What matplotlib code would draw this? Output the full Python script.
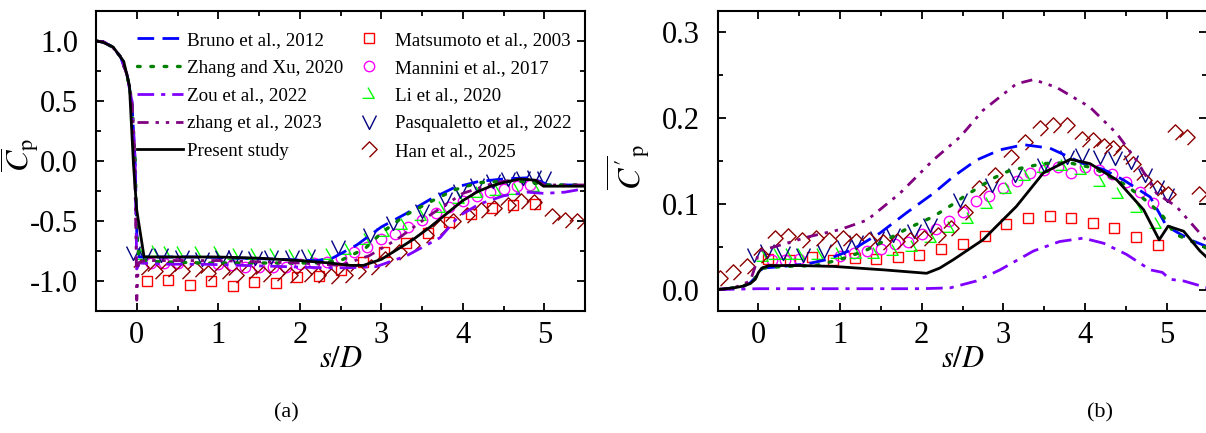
import numpy as np
import matplotlib
matplotlib.use('Agg')
import matplotlib.pyplot as plt
from matplotlib.path import Path
from matplotlib.ticker import MultipleLocator

plt.rcParams['font.family'] = ['Liberation Serif', 'DejaVu Serif']
plt.rcParams['mathtext.fontset'] = 'stix'

# ---------------- (a) mean Cp ----------------
bruno_a_x = [-0.5, -0.4, -0.3, -0.2, -0.12, -0.06, -0.02, 0.0, 0.03, 0.3, 0.8, 1.3, 1.8, 2.2, 2.4,
             2.7, 3.0, 3.3, 3.6, 3.9, 4.2, 4.5, 4.8, 4.95, 5.05, 5.5]
bruno_a_y = [1.0, 0.99, 0.95, 0.87, 0.72, 0.5, 0.0, -0.6, -0.80, -0.80, -0.80, -0.81, -0.82, -0.83, -0.81,
             -0.70, -0.55, -0.44, -0.32, -0.22, -0.17, -0.15, -0.14, -0.17, -0.20, -0.20]

zhxu_a_x = [-0.5, -0.4, -0.3, -0.2, -0.12, -0.06, -0.02, 0.0, 0.03, 0.3, 0.8, 1.3, 1.8, 2.2, 2.5,
            2.8, 3.0, 3.3, 3.6, 3.9, 4.2, 4.5, 4.8, 5.0, 5.5]
zhxu_a_y = [1.0, 0.99, 0.95, 0.87, 0.72, 0.5, 0.0, -0.6, -0.83, -0.84, -0.85, -0.85, -0.85, -0.85, -0.83,
            -0.73, -0.60, -0.45, -0.34, -0.24, -0.18, -0.17, -0.17, -0.20, -0.20]

zou_a_x = [-0.5, -0.4, -0.3, -0.2, -0.12, -0.06, -0.02, 0.0, 0.03, 0.3, 0.8, 1.3, 1.8, 2.3, 2.6, 2.94,
           3.31, 3.72, 3.95, 4.2, 4.5, 4.8, 5.0, 5.25, 5.5]
zou_a_y = [1.0, 0.99, 0.95, 0.87, 0.72, 0.5, 0.0, -0.9, -0.85, -0.86, -0.86, -0.87, -0.88, -0.89, -0.89, -0.88,
           -0.79, -0.64, -0.46, -0.36, -0.29, -0.26, -0.27, -0.26, -0.23]

zh23_a_x = [-0.5, -0.4, -0.3, -0.2, -0.12, -0.06, -0.03, -0.01, 0.0, 0.02, 0.1, 0.5, 1.0, 1.5, 2.0, 2.5,
            2.85, 3.2, 3.6, 4.0, 4.4, 4.7, 4.9, 5.0, 5.5]
zh23_a_y = [1.0, 0.99, 0.95, 0.87, 0.72, 0.5, 0.1, -0.6, -1.16, -0.85, -0.83, -0.83, -0.83, -0.84, -0.85, -0.87,
            -0.79, -0.65, -0.45, -0.27, -0.18, -0.15, -0.16, -0.20, -0.20]

pres_a_x = [-0.5, -0.42, -0.29, -0.16, -0.09, -0.04, 0.0, 0.09, 0.5, 1.0, 1.5, 2.0, 2.37, 2.62, 2.78,
            3.0, 3.19, 3.4, 3.6, 3.8, 4.0, 4.17, 4.34, 4.5, 4.7, 4.89, 4.99, 5.2, 5.5]
pres_a_y = [1.0, 0.99, 0.95, 0.83, 0.63, -0.03, -0.41, -0.80, -0.80, -0.80, -0.81, -0.83, -0.85, -0.87, -0.87,
            -0.82, -0.74, -0.65, -0.55, -0.44, -0.33, -0.26, -0.21, -0.18, -0.15, -0.16, -0.21, -0.21, -0.21]

mats_x = [0.12, 0.38, 0.65, 0.91, 1.18, 1.44, 1.71, 1.97, 2.24, 2.5, 2.77, 3.03, 3.3, 3.57, 3.83, 4.1,
          4.36, 4.62, 4.89]
mats_a_y = [-1.0, -0.99, -1.03, -1.0, -1.04, -1.01, -1.02, -0.97, -0.96, -0.91, -0.84, -0.76, -0.68, -0.60,
            -0.51, -0.44, -0.39, -0.37, -0.36]

mann_x = [0.17, 0.33, 0.5, 1.0, 1.17, 1.33, 1.5, 1.67, 1.83, 2.0, 2.17, 2.33, 2.5, 2.67, 2.83, 3.0, 3.17,
          3.33, 3.5, 3.67, 3.83, 4.0, 4.17, 4.33, 4.5, 4.67, 4.83]
mann_a_y = [-0.85, -0.85, -0.85, -0.86, -0.87, -0.88, -0.88, -0.88, -0.88, -0.86, -0.85, -0.84, -0.81, -0.76,
            -0.72, -0.65, -0.61, -0.55, -0.49, -0.43, -0.38, -0.33, -0.29, -0.26, -0.23, -0.21, -0.20]

li_x = [0.05, 0.2, 0.35, 0.5, 0.73, 0.96, 1.19, 1.42, 1.65, 1.88, 2.11, 2.34, 2.57, 2.8, 3.03, 3.26, 3.49,
        3.72, 3.95, 4.18, 4.41, 4.64, 4.87]
li_a_y = [-0.78, -0.76, -0.77, -0.77, -0.77, -0.77, -0.78, -0.78, -0.78, -0.79, -0.79, -0.78, -0.74, -0.66,
          -0.59, -0.53, -0.46, -0.39, -0.32, -0.27, -0.25, -0.24, -0.22]

pasq_x = [-0.05, 0.1, 0.3, 0.55, 0.8, 1.05, 1.2, 1.45, 1.65, 1.9, 2.1, 2.47, 2.86, 3.14, 3.5, 3.78, 3.96,
          4.18, 4.37, 4.56, 4.74, 4.88, 5.0]
pasq_a_y = [-0.77, -0.78, -0.78, -0.80, -0.82, -0.80, -0.80, -0.81, -0.80, -0.80, -0.79, -0.72, -0.62, -0.52,
            -0.42, -0.32, -0.25, -0.20, -0.17, -0.15, -0.14, -0.13, -0.14]

han_a_x = [0.05, 0.22, 0.38, 0.55, 0.72, 0.88, 1.05, 1.22, 1.38, 1.55, 1.72, 1.88, 2.05, 2.22, 2.38, 2.55,
           2.72, 2.88, 3.05, 3.22, 3.38, 3.55, 3.72, 3.88, 4.05, 4.22, 4.38, 4.55, 4.72, 4.88, 5.1, 5.25, 5.4]
han_a_y = [-0.88, -0.92, -0.90, -0.92, -0.90, -0.93, -0.92, -0.95, -0.92, -0.94, -0.93, -0.95, -0.94, -0.95,
           -0.96, -0.95, -0.92, -0.88, -0.82, -0.76, -0.70, -0.62, -0.55, -0.50, -0.45, -0.41, -0.39, -0.37,
           -0.33, -0.34, -0.46, -0.49, -0.50]

# ---------------- (b) fluctuating Cp' ----------------
bruno_b_x = [-0.5, -0.2, -0.1, -0.03, 0.05, 0.3, 0.6, 0.84, 1.16, 1.49, 1.82, 2.14, 2.39, 2.67, 2.96, 3.25,
             3.57, 3.98, 4.23, 4.47, 4.8, 5.0, 5.29, 5.5]
bruno_b_y = [0.0, 0.003, 0.008, 0.015, 0.025, 0.027, 0.03, 0.035, 0.047, 0.066, 0.090, 0.112, 0.132, 0.151,
             0.163, 0.169, 0.165, 0.147, 0.140, 0.128, 0.108, 0.074, 0.058, 0.050]

zhxu_b_x = [-0.5, -0.2, -0.05, 0.05, 0.3, 0.7, 1.0, 1.3, 1.57, 1.82, 2.14, 2.39, 2.51, 2.88, 3.08, 3.29,
            3.49, 3.8, 4.1, 4.5, 4.8, 4.96, 5.1, 5.5]
zhxu_b_y = [0.0, 0.003, 0.012, 0.025, 0.027, 0.028, 0.035, 0.045, 0.058, 0.071, 0.085, 0.100, 0.108, 0.130,
            0.139, 0.143, 0.147, 0.148, 0.142, 0.122, 0.100, 0.085, 0.065, 0.048]

zou_b_x = [-0.5, 0.0, 1.0, 2.0, 2.35, 2.67, 2.96, 3.37, 3.69, 3.98, 4.23, 4.51, 4.8, 4.95, 5.04, 5.21, 5.5]
zou_b_y = [0.0, 0.001, 0.001, 0.001, 0.002, 0.010, 0.023, 0.045, 0.056, 0.060, 0.054, 0.041, 0.023, 0.020,
           0.012, 0.010, 0.002]

zh23_b_x = [-0.5, -0.3, -0.1, -0.03, 0.0, 0.2, 0.63, 1.0, 1.33, 1.73, 2.14, 2.47, 2.75, 3.16, 3.37, 3.65,
            4.06, 4.39, 4.63, 4.88, 5.12, 5.37, 5.5]
zh23_b_y = [0.0, 0.002, 0.01, 0.03, 0.045, 0.05, 0.062, 0.07, 0.081, 0.112, 0.151, 0.178, 0.209, 0.240, 0.245,
            0.236, 0.213, 0.182, 0.151, 0.112, 0.097, 0.070, 0.056]

pres_b_x = [-0.5, -0.3, -0.19, -0.1, -0.04, 0.0, 0.04, 0.13, 0.5, 0.92, 1.53, 2.06, 2.22, 2.39, 2.75, 3.16,
            3.49, 3.82, 4.06, 4.39, 4.72, 4.91, 5.02, 5.21, 5.41, 5.5]
pres_b_y = [0.0, 0.002, 0.004, 0.007, 0.012, 0.02, 0.025, 0.028, 0.028, 0.027, 0.023, 0.019, 0.025, 0.035,
            0.058, 0.097, 0.136, 0.152, 0.147, 0.128, 0.093, 0.058, 0.074, 0.068, 0.045, 0.037]

mats_b_y = [0.036, 0.035, 0.038, 0.034, 0.037, 0.036, 0.038, 0.040, 0.047, 0.053, 0.063, 0.076, 0.083,
            0.086, 0.083, 0.078, 0.072, 0.061, 0.052]

mann_b_y = [0.035, 0.035, 0.036, 0.039, 0.043, 0.045, 0.047, 0.053, 0.056, 0.065, 0.071, 0.080, 0.091,
            0.103, 0.109, 0.118, 0.127, 0.136, 0.140, 0.143, 0.136, 0.143, 0.140, 0.135, 0.125, 0.114, 0.101]

li_b_y = [0.038, 0.040, 0.040, 0.040, 0.040, 0.041, 0.041, 0.042, 0.045, 0.050, 0.060, 0.072, 0.082, 0.100,
          0.117, 0.132, 0.142, 0.144, 0.140, 0.126, 0.112, 0.095, 0.077]

pasq_b_y = [0.040, 0.045, 0.043, 0.040, 0.045, 0.050, 0.056, 0.060, 0.064, 0.068, 0.075, 0.105, 0.122,
            0.134, 0.145, 0.155, 0.157, 0.155, 0.153, 0.149, 0.134, 0.120, 0.110]

han_b_x = [-0.47, -0.31, -0.14, 0.03, 0.2, 0.36, 0.53, 0.7, 0.86, 1.03, 1.2, 1.36, 1.53, 1.7, 1.86, 2.03,
           2.2, 2.36, 2.53, 2.7, 2.9, 3.1, 3.27, 3.45, 3.61, 3.78, 3.96, 4.1, 4.23, 4.35, 4.47, 4.59, 4.72,
           4.88, 5.02, 5.1, 5.25, 5.4]
han_b_y = [0.013, 0.021, 0.028, 0.040, 0.060, 0.063, 0.058, 0.060, 0.058, 0.060, 0.057, 0.058, 0.056, 0.057,
           0.058, 0.060, 0.064, 0.072, 0.090, 0.118, 0.134, 0.155, 0.172, 0.188, 0.192, 0.192, 0.176, 0.174,
           0.167, 0.165, 0.160, 0.147, 0.128, 0.118, 0.112, 0.184, 0.178, 0.112]

labels_lines = ['Bruno et al., 2012', 'Zhang and Xu, 2020', 'Zou et al., 2022', 'zhang et al., 2023',
                'Present study']
labels_marks = ['Matsumoto et al., 2003', 'Mannini et al., 2017', 'Li et al., 2020',
                'Pasqualetto et al., 2022', 'Han et al., 2025']

# open custom markers (triangle/diamond with a missing side)
li_marker = Path([(-0.2, 0.9), (0.6, -0.5), (-0.9, -0.5)], [Path.MOVETO, Path.LINETO, Path.LINETO])
pasq_marker = Path([(-0.7, 0.7), (0.0, -0.7), (0.7, 0.7)], [Path.MOVETO, Path.LINETO, Path.LINETO])
han_marker = Path([(-0.7, 0.0), (0.0, 0.7), (0.7, 0.0), (0.0, -0.7)],
                  [Path.MOVETO, Path.LINETO, Path.LINETO, Path.LINETO])

line_styles = [
    dict(color='#0000FF', lw=2.0, dashes=(6, 3)),
    dict(color='#008000', lw=2.4, dashes=(0.8, 3.2), dash_capstyle='round'),
    dict(color='#8000FF', lw=2.0, dashes=(6, 2.5, 1.5, 2.5)),
    dict(color='#800080', lw=2.0, dashes=(4, 2.5, 1.2, 2.5, 1.2, 2.5)),
    dict(color='black', lw=2.0),
]
mark_styles = [
    dict(marker='s', ms=7, mfc='none', mec='#FF0000', mew=1.0),
    dict(marker='o', ms=7.5, mfc='none', mec='#FF00FF', mew=1.0),
    dict(marker=li_marker, ms=10, mfc='none', mec='#00FF00', mew=1.0),
    dict(marker=pasq_marker, ms=10, mfc='none', mec='#000080', mew=1.0),
    dict(marker=han_marker, ms=11, mfc='none', mec='#8B0000', mew=1.0),
]

fig = plt.figure(figsize=(12.06, 4.33), dpi=100)
ax1 = fig.add_axes([0.0796, 0.2818, 0.4055, 0.6928])
ax2 = fig.add_axes([0.5951, 0.2818, 0.4060, 0.6928])

series_a_lines = [(bruno_a_x, bruno_a_y), (zhxu_a_x, zhxu_a_y), (zou_a_x, zou_a_y),
                  (zh23_a_x, zh23_a_y), (pres_a_x, pres_a_y)]
series_a_marks = [(mats_x, mats_a_y), (mann_x, mann_a_y), (li_x, li_a_y), (pasq_x, pasq_a_y),
                  (han_a_x, han_a_y)]
series_b_lines = [(bruno_b_x, bruno_b_y), (zhxu_b_x, zhxu_b_y), (zou_b_x, zou_b_y),
                  (zh23_b_x, zh23_b_y), (pres_b_x, pres_b_y)]
series_b_marks = [(mats_x, mats_b_y), (mann_x, mann_b_y), (li_x, li_b_y), (pasq_x, pasq_b_y),
                  (han_b_x, han_b_y)]

handles = []
for ax, lines, marks in [(ax1, series_a_lines, series_a_marks), (ax2, series_b_lines, series_b_marks)]:
    hl, hm = [], []
    for (x, y), st, lab in zip(marks, mark_styles, labels_marks):
        h, = ax.plot(x, y, ls='none', label=lab, **st)
        hm.append(h)
    for (x, y), st, lab in zip(lines, line_styles, labels_lines):
        h, = ax.plot(x, y, label=lab, **st)
        hl.append(h)
    handles.append((hl, hm))

for ax in (ax1, ax2):
    ax.set_xlim(-0.5, 5.5)
    ax.xaxis.set_major_locator(MultipleLocator(1))
    ax.xaxis.set_minor_locator(MultipleLocator(0.5))
    ax.tick_params(which='both', direction='in', top=True, right=True, labelsize=22, width=1.3)
    ax.tick_params(which='major', length=6)
    ax.tick_params(which='minor', length=3.5)
    ax.tick_params(axis='y', which='major', pad=13)
    ax.tick_params(axis='x', which='major', pad=7)
    for sp in ax.spines.values():
        sp.set_linewidth(1.5)
    ax.set_xlabel(r'$s/D$', fontsize=22)
    ax.xaxis.set_label_coords(0.5, -0.112)

ax1.set_ylim(-1.25, 1.25)
ax1.yaxis.set_major_locator(MultipleLocator(0.5))
ax1.yaxis.set_minor_locator(MultipleLocator(0.25))
ax1.set_yticks([-1.0, -0.5, 0.0, 0.5, 1.0])
ax1.set_yticklabels(['-1.0', '-0.5', '0.0', '0.5', '1.0'])
ax1.set_ylabel(r'$\overline{C}_{\mathrm{p}}$', fontsize=23)
ax1.yaxis.set_label_coords(-0.112, 0.52)

ax2.set_ylim(-0.025, 0.325)
ax2.yaxis.set_major_locator(MultipleLocator(0.1))
ax2.yaxis.set_minor_locator(MultipleLocator(0.05))
ax2.yaxis.set_major_formatter(matplotlib.ticker.FormatStrFormatter('%.1f'))
ax2.set_ylabel(r"$\overline{C^{\prime}}_{\mathrm{p}}$", fontsize=23)
ax2.yaxis.set_label_coords(-0.135, 0.48)

hl, hm = handles[0]
ax1.legend(hl + hm, labels_lines + labels_marks, ncol=2, frameon=False, loc='upper left',
           bbox_to_anchor=(0.069, 0.957), borderaxespad=0, fontsize=13.7, handlelength=2.4,
           handletextpad=0.2, columnspacing=0.15, labelspacing=0.55, numpoints=1)

fig.text(0.2372, 0.035, '(a)', fontsize=16, ha='center')
fig.text(0.9118, 0.035, '(b)', fontsize=16, ha='center')

fig.savefig('out.png', dpi=100)
